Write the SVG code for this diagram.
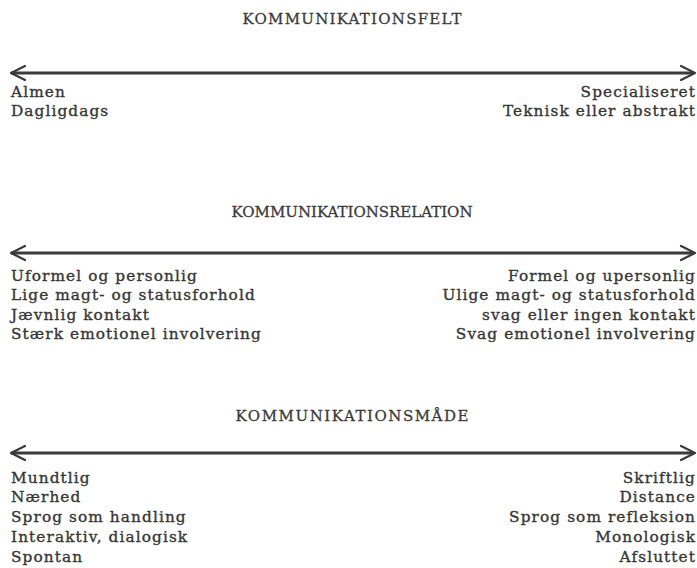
<svg xmlns="http://www.w3.org/2000/svg" width="697" height="568" viewBox="0 0 697 568">
<style>
.h{font-family:"DejaVu Serif","Liberation Serif",serif;font-size:15px;fill:#3a3a3a;stroke:#3a3a3a;stroke-width:0.3;}
.l{font-family:"DejaVu Serif","Liberation Serif",serif;font-size:15.3px;fill:#363636;stroke:#363636;stroke-width:0.35;letter-spacing:1.1px;}
.r{text-anchor:end;}
.ax{stroke:#3a3a3a;stroke-width:2.8;fill:none;}
.hd{stroke:#3a3a3a;stroke-width:2.2;fill:none;stroke-linecap:round;stroke-linejoin:round;}
</style>
<rect width="697" height="568" fill="#ffffff"/>
<g id="connectors">
  <g id="axis-felt">
    <line class="ax" x1="11" y1="73" x2="693" y2="73"/>
    <polyline class="hd" points="25,66 11,73 25,80"/>
    <polyline class="hd" points="681,66 695,73 681,80"/>
  </g>
  <g id="axis-relation">
    <line class="ax" x1="11" y1="253" x2="693" y2="253"/>
    <polyline class="hd" points="25,246 11,253 25,260"/>
    <polyline class="hd" points="681,246 695,253 681,260"/>
  </g>
  <g id="axis-maade">
    <line class="ax" x1="11" y1="453" x2="693" y2="453"/>
    <polyline class="hd" points="25,446 11,453 25,460"/>
    <polyline class="hd" points="681,446 695,453 681,460"/>
  </g>
</g>
<g id="felt">
  <text class="h" x="352" y="24" text-anchor="middle" textLength="219" lengthAdjust="spacing">KOMMUNIKATIONSFELT</text>
  <g id="felt-left">
    <text class="l" x="11" y="97">Almen</text>
    <text class="l" x="11" y="116">Dagligdags</text>
  </g>
  <g id="felt-right">
    <text class="l r" x="696" y="97">Specialiseret</text>
    <text class="l r" x="696" y="116">Teknisk eller abstrakt</text>
  </g>
</g>
<g id="relation">
  <text class="h" x="352" y="217" text-anchor="middle" textLength="241" lengthAdjust="spacing">KOMMUNIKATIONSRELATION</text>
  <g id="relation-left">
    <text class="l" x="11" y="281">Uformel og personlig</text>
    <text class="l" x="11" y="300">Lige magt- og statusforhold</text>
    <text class="l" x="11" y="320">Jævnlig kontakt</text>
    <text class="l" x="11" y="339">Stærk emotionel involvering</text>
  </g>
  <g id="relation-right">
    <text class="l r" x="696" y="281">Formel og upersonlig</text>
    <text class="l r" x="696" y="300">Ulige magt- og statusforhold</text>
    <text class="l r" x="696" y="320">svag eller ingen kontakt</text>
    <text class="l r" x="696" y="339">Svag emotionel involvering</text>
  </g>
</g>
<g id="maade">
  <text class="h" x="352" y="421" text-anchor="middle" textLength="233" lengthAdjust="spacing">KOMMUNIKATIONSMÅDE</text>
  <g id="maade-left">
    <text class="l" x="11" y="483">Mundtlig</text>
    <text class="l" x="11" y="502">Nærhed</text>
    <text class="l" x="11" y="522">Sprog som handling</text>
    <text class="l" x="11" y="542">Interaktiv, dialogisk</text>
    <text class="l" x="11" y="562">Spontan</text>
  </g>
  <g id="maade-right">
    <text class="l r" x="696" y="483">Skriftlig</text>
    <text class="l r" x="696" y="502">Distance</text>
    <text class="l r" x="696" y="522">Sprog som refleksion</text>
    <text class="l r" x="696" y="542">Monologisk</text>
    <text class="l r" x="696" y="562">Afsluttet</text>
  </g>
</g>
</svg>
